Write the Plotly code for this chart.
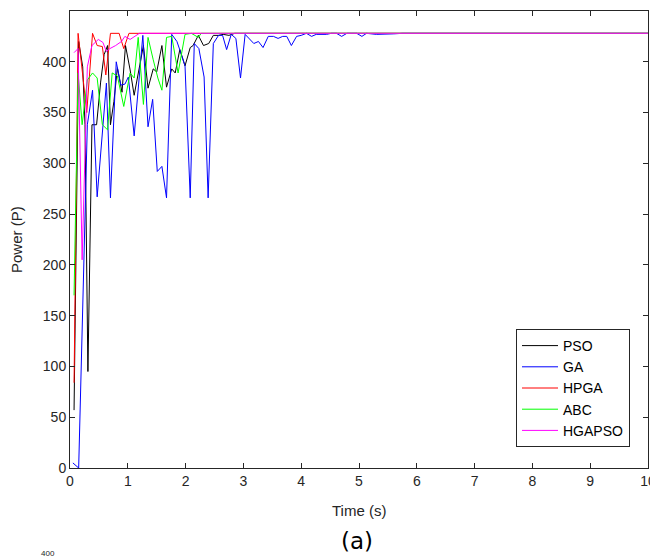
import plotly.graph_objects as go

# ---------------- data ----------------
pso_t = [0.07, 0.15, 0.22, 0.26, 0.31, 0.38, 0.46, 0.53, 0.59, 0.65, 0.70, 0.76, 0.82, 0.90, 0.96,
         1.04, 1.11, 1.18, 1.27, 1.35, 1.44, 1.50, 1.59, 1.67, 1.76, 1.82, 1.90, 1.99, 2.08, 2.13,
         2.22, 2.31, 2.40, 2.48, 2.57, 2.65, 2.75, 2.85, 10]
pso_p = [57, 420, 395, 338, 95, 338, 338, 380, 407, 416, 338, 361, 394, 370, 416,
         392, 367, 389, 416, 374, 393, 390, 416, 375, 393, 389, 412, 396, 414, 416,
         426, 416, 418, 426, 426, 427, 426, 428, 428]

ga_t = [0.05, 0.15, 0.30, 0.39, 0.47, 0.55, 0.63, 0.70, 0.80, 0.88, 0.95, 1.01, 1.11, 1.26, 1.35,
        1.43, 1.51, 1.59, 1.67, 1.76, 1.85, 1.91, 1.99, 2.08, 2.15, 2.23, 2.32, 2.39, 2.48, 2.57,
        2.64, 2.71, 2.79, 2.87, 2.95, 3.03, 3.11, 3.18, 3.26, 3.34, 3.43, 3.52, 3.60, 3.68, 3.75,
        3.83, 3.92, 4.00, 4.09, 4.18, 4.26, 4.35, 4.44, 4.52, 4.61, 4.70, 4.79, 4.87, 4.96, 5.05,
        5.13, 5.30, 5.45, 5.60, 5.75, 10]
ga_p = [5, 0, 338, 372, 267, 326, 379, 266, 400, 377, 378, 385, 327, 426, 336,
        363, 292, 297, 266, 427, 420, 410, 396, 266, 418, 413, 385, 266, 418, 426,
        426, 412, 427, 423, 384, 427, 422, 418, 420, 414, 425, 425, 423, 425, 425,
        416, 425, 426, 428, 425, 427, 427, 427, 428, 428, 425, 428, 428, 428, 425,
        428, 427, 427, 427.5, 428, 428]

hpga_t = [0.07, 0.14, 0.21, 0.29, 0.39, 0.47, 0.56, 0.62, 0.70, 0.85, 0.93, 1.02, 10]
hpga_p = [84, 428, 392, 350, 428, 416, 415, 387, 428, 428, 413, 428, 428]

abc_t = [0.07, 0.14, 0.21, 0.30, 0.39, 0.47, 0.56, 0.65, 0.73, 0.82, 0.93, 1.04, 1.11, 1.18,
         1.27, 1.35, 1.44, 1.52, 1.59, 1.67, 1.76, 1.87, 1.99, 2.10, 2.22, 2.27, 2.35, 10]
abc_p = [170, 389, 338, 382, 389, 384, 338, 333, 389, 386, 356, 389, 384, 424,
         358, 424, 402, 384, 372, 424, 425, 389, 427, 428, 424, 428, 428, 428]

hgapso_t = [0.07, 0.14, 0.21, 0.30, 0.38, 0.49, 0.57, 0.63, 0.69, 0.79, 0.89, 0.95, 1.04, 1.20, 10]
hgapso_p = [409, 413, 205, 395, 416, 422, 419, 410, 413, 416, 420, 425, 422, 428, 428]

series_names = ["PSO", "GA", "HPGA", "ABC", "HGAPSO"]
series_x = [pso_t, ga_t, hpga_t, abc_t, hgapso_t]
series_y = [pso_p, ga_p, hpga_p, abc_p, hgapso_p]
series_colors = ["#000000", "#0000ff", "#ff0000", "#00ff00", "#ff00ff"]

x_ticks = list(range(0, 11))
y_ticks = list(range(0, 451, 50))

# ---------------- figure ----------------
# the page body adds an 8px offset, so the figure is 8px smaller and all
# reference pixel positions are shifted by 8
OFF = 8
W, H = 658 - OFF, 560 - OFF
ML, MR, MT, MB = 70 - OFF, 10, 11 - OFF, 92
plot_w = W - ML - MR
plot_h = H - MT - MB

def py(pix):
    """reference pixel row -> paper y"""
    return (H - MB - (pix - OFF)) / plot_h

def px(pix):
    """reference pixel column -> paper x"""
    return ((pix - OFF) - ML) / plot_w

fig = go.Figure()
for name, xs, ys, col in zip(series_names, series_x, series_y, series_colors):
    fig.add_trace(go.Scatter(x=xs, y=ys, mode="lines", name=name,
                             line=dict(color=col, width=1)))

axis_col = "#262626"
sans = "Liberation Sans, Arial, sans-serif"
tick_font = dict(family=sans, size=14, color="#262626")

fig.update_layout(
    width=W, height=H,
    margin=dict(l=ML, r=MR, t=MT, b=MB, autoexpand=False),
    paper_bgcolor="white", plot_bgcolor="white",
    showlegend=True,
    legend=dict(x=px(630), y=py(447), xanchor="right", yanchor="bottom",
                bgcolor="white", bordercolor=axis_col, borderwidth=1,
                font=dict(family=sans, size=14, color="#000000"),
                itemwidth=36, tracegroupgap=0),
    xaxis=dict(range=[0, 10], tickvals=x_ticks, ticktext=[str(v) for v in x_ticks],
               showline=True, linecolor=axis_col, linewidth=1, mirror="ticks",
               ticks="inside", ticklen=5, tickcolor=axis_col, showgrid=False,
               zeroline=False, tickfont=tick_font, automargin=False),
    yaxis=dict(range=[0, 450], tickvals=y_ticks, ticktext=[str(v) for v in y_ticks],
               showline=True, linecolor=axis_col, linewidth=1, mirror="ticks",
               ticks="inside", ticklen=5, tickcolor=axis_col, showgrid=False,
               zeroline=False, tickfont=tick_font, automargin=False),
    annotations=[
        dict(text="Time (s)", xref="paper", yref="paper", x=px(359), y=py(511),
             xanchor="center", yanchor="middle", showarrow=False,
             font=dict(family=sans, size=15, color="#262626")),
        dict(text="Power (P)", xref="paper", yref="paper", x=px(16), y=py(240),
             xanchor="center", yanchor="middle", showarrow=False, textangle=-90,
             font=dict(family=sans, size=15, color="#262626")),
        dict(text="(a)", xref="paper", yref="paper", x=px(357), y=py(541),
             xanchor="center", yanchor="middle", showarrow=False,
             font=dict(family="DejaVu Sans, sans-serif", size=23, color="#000000")),
        dict(text="400", xref="paper", yref="paper", x=px(48), y=py(560),
             xanchor="center", yanchor="bottom", showarrow=False,
             font=dict(family=sans, size=8, color="#262626")),
    ],
)

fig.write_html("out.html")
